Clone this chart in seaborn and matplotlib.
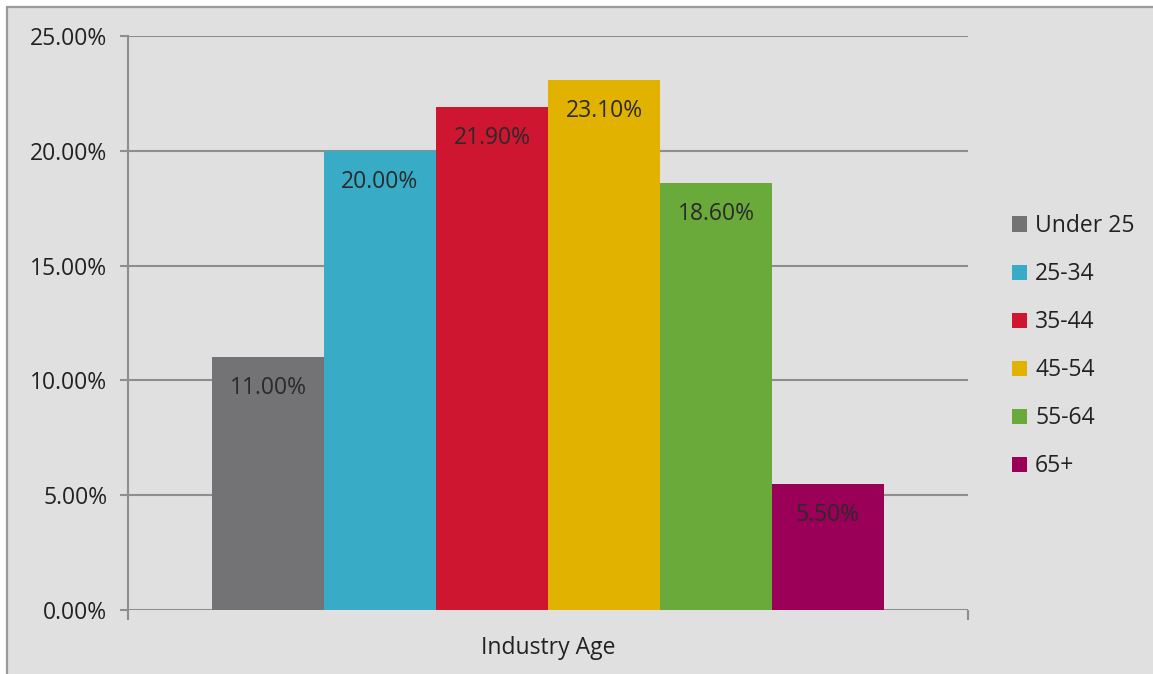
import matplotlib
matplotlib.use("Agg")
import matplotlib.pyplot as plt
from matplotlib.patches import Rectangle
from matplotlib.ticker import PercentFormatter
import seaborn as sns
import pandas as pd

# Share of the workforce by age group
category = ["Industry Age"]
age_groups = ["Under 25", "25-34", "35-44", "45-54", "55-64", "65+"]
shares = [11.0, 20.0, 21.9, 23.1, 18.6, 5.5]
colors = ["#737274", "#38ACC6", "#CE1631", "#E2B200", "#6AAA3A", "#9B0058"]
y_ticks = [0, 5, 10, 15, 20, 25]

df = pd.DataFrame({
    "category": category * len(age_groups),
    "age": age_groups,
    "share": shares,
})

sns.set_theme(style="white")
plt.rcParams["font.family"] = ["Open Sans", "DejaVu Sans"]

FS = 16.5
bg = "#E0E0E0"
fig = plt.figure(figsize=(11.53, 6.74), dpi=100, facecolor="white")
# outer chart frame
frame = Rectangle((7 / 1153, -0.1), 1.2, 1.1 - 7 / 674,
                  transform=fig.transFigure, facecolor=bg,
                  edgecolor="#9A9A9A", linewidth=1.6, zorder=-5)
fig.patches.append(frame)
ax = fig.add_axes([128 / 1153, 1 - 610 / 674, 840 / 1153, 574 / 674])
ax.set_facecolor(bg)

sns.barplot(data=df, x="category", y="share", hue="age", hue_order=age_groups,
            palette=colors, width=0.8, gap=0, saturation=1, ax=ax,
            edgecolor="none", linewidth=0, legend=False)

ax.set_xlim(-0.5, 0.5)
ax.set_ylim(0, 25)
ax.set_yticks(y_ticks)
ax.yaxis.set_major_formatter(PercentFormatter(decimals=2))
ax.grid(axis="y", color="#8E8E8E", linewidth=1.5, zorder=0)
ax.set_axisbelow(True)
for s in ["top", "right", "bottom"]:
    ax.spines[s].set_visible(False)
ax.spines["left"].set_color("#8E8E8E")
ax.spines["left"].set_linewidth(1.5)
ax.tick_params(axis="y", length=6, width=1.5, color="#8E8E8E",
               labelsize=FS, labelcolor="#222222", pad=9, left=True)
ax.set_xticks([-0.5, 0.5], minor=True)
ax.tick_params(axis="x", which="minor", length=7, width=1.5, color="#8E8E8E",
               bottom=True)
ax.tick_params(axis="x", which="major", length=0, labelsize=FS,
               labelcolor="#222222", pad=19)
ax.set_xlabel("")
ax.set_ylabel("")

# value labels inside the top of each bar
for container, val in zip(ax.containers, shares):
    ax.bar_label(container, labels=[f"{val:.2f}%"], label_type="edge",
                 padding=-31, fontsize=FS, color="#2A2A2A")

handles = [Rectangle((0, 0), 1, 1, facecolor=c, edgecolor="none") for c in colors]
fig.legend(handles, age_groups, loc="upper left",
           bbox_to_anchor=(1003 / 1153, 1 - 205 / 674), frameon=False,
           fontsize=FS, labelspacing=1.05, handlelength=0.65,
           handleheight=0.65, handletextpad=0.35, labelcolor="#222222",
           borderaxespad=0)

fig.savefig("out.png", dpi=100, facecolor="white")
